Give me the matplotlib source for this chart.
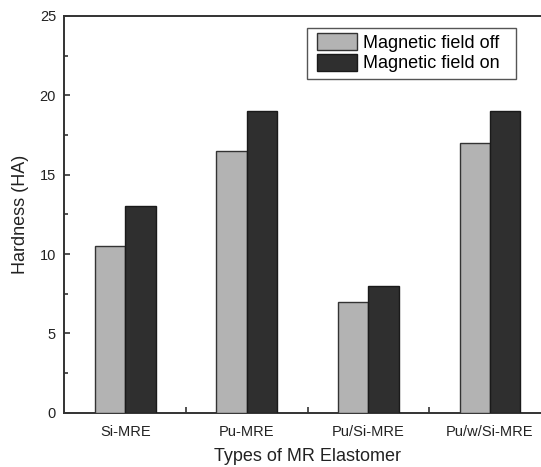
import numpy as np
import matplotlib
matplotlib.use('Agg')
import matplotlib.pyplot as plt
from matplotlib.patches import Rectangle

plt.rcParams['font.family'] = ['Liberation Sans', 'DejaVu Sans']

categories = ['Si-MRE', 'Pu-MRE', 'Pu/Si-MRE', 'Pu/w/Si-MRE']
field_off = [10.5, 16.5, 7.0, 17.0]
field_on = [13.0, 19.0, 8.0, 19.0]

x = np.arange(len(categories))
w = 0.25

fig = plt.figure(figsize=(5.41, 4.67), dpi=100)
ax = fig.add_axes([0.119, 0.116, 0.899, 0.850])

ax.bar(x - w / 2, field_off, w, color='#b3b3b3', edgecolor='#333333', linewidth=1.0,
       label='Magnetic field off', zorder=3)
ax.bar(x + w / 2, field_on, w, color='#2f2f2f', edgecolor='#1a1a1a', linewidth=1.0,
       label='Magnetic field on', zorder=3)

ax.set_xlim(-0.5, 3.5)
ax.set_ylim(0, 25)
ax.set_yticks([0, 5, 10, 15, 20, 25])
ax.set_yticks(np.arange(2.5, 25, 5), minor=True)
ax.set_xticks(x)
ax.set_xticklabels(categories)
ax.set_xticks([0.5, 1.5, 2.5], minor=True)

for s in ax.spines.values():
    s.set_linewidth(1.4)
    s.set_color('#333333')

ax.tick_params(axis='both', which='both', direction='in', color='#333333', width=1.2,
               labelsize=10.5, labelcolor='#222222')
ax.tick_params(axis='y', which='major', length=4, pad=6)
ax.tick_params(axis='y', which='minor', length=3)
ax.tick_params(axis='x', which='major', length=0, pad=9)
ax.tick_params(axis='x', which='minor', length=4)

ax.set_xlabel('Types of MR Elastomer', fontsize=13, color='#222222', labelpad=6)
ax.set_ylabel('Hardness (HA)', fontsize=13, color='#222222', labelpad=8)

# legend box drawn separately (wider padding than matplotlib's default frame)
ax.add_patch(Rectangle((0.4986, 0.8406), 0.4297, 0.1284, transform=ax.transAxes,
                       facecolor='white', edgecolor='#555555', linewidth=1.0, zorder=4))
leg = ax.legend(loc='upper left', bbox_to_anchor=(0.519, 0.9565), fontsize=13,
                frameon=False, borderpad=0, handlelength=2.2, handleheight=1.05,
                handletextpad=0.35, labelspacing=0.12, borderaxespad=0)
leg.set_zorder(5)

fig.savefig('out.png', dpi=100)
